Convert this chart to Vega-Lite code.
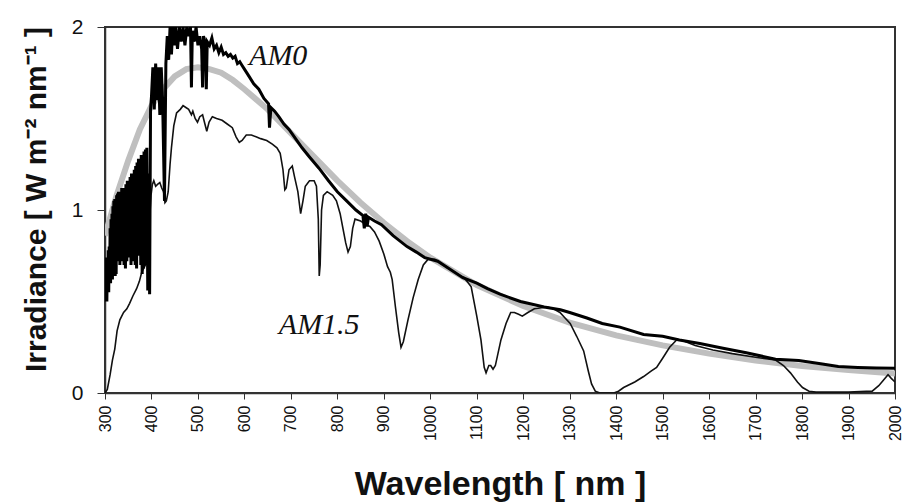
{
  "$schema": "https://vega.github.io/schema/vega-lite/v6.json",
  "width": 790,
  "height": 366,
  "autosize": {"type": "none"},
  "padding": {"left": 105, "top": 27, "right": 7, "bottom": 109},
  "background": "white",
  "config": {
    "view": {"stroke": "#333333", "strokeWidth": 2},
    "axis": {"grid": false, "domainColor": "#333333", "domainWidth": 1.5, "tickColor": "#333333", "labelColor": "#111111", "titleColor": "#111111", "labelFont": "Liberation Sans", "titleFont": "Liberation Sans"}
  },
  "datasets": {
    "bb": [
      {"wl": 300, "val": 0.86}, {"wl": 325, "val": 1.08}, {"wl": 350, "val": 1.27}, {"wl": 375, "val": 1.44}, {"wl": 400, "val": 1.57},
      {"wl": 425, "val": 1.66}, {"wl": 450, "val": 1.73}, {"wl": 475, "val": 1.77}, {"wl": 500, "val": 1.78}, {"wl": 525, "val": 1.77},
      {"wl": 550, "val": 1.75}, {"wl": 575, "val": 1.71}, {"wl": 600, "val": 1.66}, {"wl": 650, "val": 1.55}, {"wl": 700, "val": 1.42},
      {"wl": 750, "val": 1.29}, {"wl": 800, "val": 1.16}, {"wl": 850, "val": 1.04}, {"wl": 900, "val": 0.93}, {"wl": 950, "val": 0.83},
      {"wl": 1000, "val": 0.74}, {"wl": 1100, "val": 0.59}, {"wl": 1200, "val": 0.475}, {"wl": 1300, "val": 0.385}, {"wl": 1400, "val": 0.315},
      {"wl": 1500, "val": 0.26}, {"wl": 1600, "val": 0.215}, {"wl": 1700, "val": 0.178}, {"wl": 1800, "val": 0.148}, {"wl": 1900, "val": 0.125},
      {"wl": 2000, "val": 0.106}
    ],
    "am0": [
      {"wl": 300, "val": 0.52}, {"wl": 301, "val": 0.7}, {"wl": 302, "val": 0.5}, {"wl": 303, "val": 0.74}, {"wl": 304, "val": 0.5}, {"wl": 305, "val": 0.72}, {"wl": 306, "val": 0.55}, {"wl": 307, "val": 0.78}, {"wl": 308, "val": 0.55},
      {"wl": 309, "val": 0.8}, {"wl": 310, "val": 0.6}, {"wl": 311, "val": 0.9}, {"wl": 312, "val": 0.6}, {"wl": 313, "val": 0.95}, {"wl": 314, "val": 0.62}, {"wl": 315, "val": 0.98}, {"wl": 316, "val": 0.62}, {"wl": 317, "val": 1.02}, {"wl": 318, "val": 0.66},
      {"wl": 319, "val": 1.05}, {"wl": 320, "val": 0.7}, {"wl": 321, "val": 1.06}, {"wl": 322, "val": 0.64}, {"wl": 323, "val": 1.04}, {"wl": 324, "val": 0.65}, {"wl": 325, "val": 1.08}, {"wl": 326, "val": 0.72}, {"wl": 327, "val": 1.09}, {"wl": 328, "val": 0.78},
      {"wl": 329, "val": 1.1}, {"wl": 330, "val": 0.74}, {"wl": 331, "val": 1.1}, {"wl": 332, "val": 0.7}, {"wl": 333, "val": 1.09}, {"wl": 335, "val": 0.72}, {"wl": 336, "val": 1.12}, {"wl": 338, "val": 0.75}, {"wl": 339, "val": 1.1}, {"wl": 341, "val": 0.7}, {"wl": 342, "val": 1.12},
      {"wl": 344, "val": 0.68}, {"wl": 345, "val": 1.14}, {"wl": 347, "val": 0.72}, {"wl": 348, "val": 1.16}, {"wl": 350, "val": 0.8}, {"wl": 351, "val": 1.16}, {"wl": 353, "val": 0.74}, {"wl": 354, "val": 1.18}, {"wl": 356, "val": 0.7},
      {"wl": 357, "val": 1.2}, {"wl": 359, "val": 0.72}, {"wl": 360, "val": 1.2}, {"wl": 362, "val": 0.75}, {"wl": 363, "val": 1.22}, {"wl": 365, "val": 0.7}, {"wl": 366, "val": 1.24}, {"wl": 368, "val": 0.68}, {"wl": 369, "val": 1.26}, {"wl": 371, "val": 0.75},
      {"wl": 372, "val": 1.28}, {"wl": 374, "val": 0.8}, {"wl": 375, "val": 1.27}, {"wl": 377, "val": 0.7}, {"wl": 378, "val": 1.3}, {"wl": 380, "val": 0.65}, {"wl": 381, "val": 1.3}, {"wl": 383, "val": 0.68}, {"wl": 384, "val": 1.32}, {"wl": 386, "val": 0.7},
      {"wl": 387, "val": 1.33}, {"wl": 389, "val": 0.75}, {"wl": 390, "val": 1.34}, {"wl": 392, "val": 0.56}, {"wl": 394, "val": 1.2}, {"wl": 396, "val": 0.54}, {"wl": 398, "val": 1.55},
      {"wl": 400, "val": 1.62}, {"wl": 403, "val": 1.78}, {"wl": 406, "val": 1.55}, {"wl": 409, "val": 1.8}, {"wl": 412, "val": 1.6},
      {"wl": 415, "val": 1.78}, {"wl": 418, "val": 1.52}, {"wl": 421, "val": 1.78}, {"wl": 424, "val": 1.6}, {"wl": 428, "val": 1.05},
      {"wl": 431, "val": 1.8}, {"wl": 434, "val": 1.95}, {"wl": 437, "val": 1.82}, {"wl": 440, "val": 2.0}, {"wl": 443, "val": 1.85},
      {"wl": 446, "val": 2.0}, {"wl": 449, "val": 1.9}, {"wl": 452, "val": 2.0}, {"wl": 456, "val": 1.88}, {"wl": 460, "val": 2.0},
      {"wl": 464, "val": 1.92}, {"wl": 468, "val": 2.0}, {"wl": 472, "val": 1.9}, {"wl": 476, "val": 2.0}, {"wl": 480, "val": 1.95},
      {"wl": 484, "val": 2.0}, {"wl": 486, "val": 1.67}, {"wl": 488, "val": 1.98}, {"wl": 492, "val": 1.92}, {"wl": 496, "val": 2.0},
      {"wl": 500, "val": 1.9}, {"wl": 504, "val": 1.95}, {"wl": 508, "val": 1.88}, {"wl": 510, "val": 1.67}, {"wl": 512, "val": 1.95},
      {"wl": 516, "val": 1.9}, {"wl": 518, "val": 1.66}, {"wl": 520, "val": 1.92}, {"wl": 525, "val": 1.9}, {"wl": 530, "val": 1.94},
      {"wl": 535, "val": 1.88}, {"wl": 540, "val": 1.9}, {"wl": 545, "val": 1.86}, {"wl": 550, "val": 1.89}, {"wl": 555, "val": 1.85},
      {"wl": 560, "val": 1.86}, {"wl": 565, "val": 1.84}, {"wl": 570, "val": 1.85}, {"wl": 575, "val": 1.83}, {"wl": 580, "val": 1.84},
      {"wl": 585, "val": 1.8}, {"wl": 590, "val": 1.81}, {"wl": 595, "val": 1.79}, {"wl": 600, "val": 1.77}, {"wl": 610, "val": 1.73},
      {"wl": 620, "val": 1.69}, {"wl": 631, "val": 1.66}, {"wl": 642, "val": 1.61}, {"wl": 652, "val": 1.58}, {"wl": 654, "val": 1.45},
      {"wl": 657, "val": 1.56}, {"wl": 665, "val": 1.54}, {"wl": 674, "val": 1.51}, {"wl": 685, "val": 1.47}, {"wl": 696, "val": 1.44},
      {"wl": 710, "val": 1.39}, {"wl": 724, "val": 1.34}, {"wl": 740, "val": 1.29}, {"wl": 760, "val": 1.23}, {"wl": 781, "val": 1.16},
      {"wl": 800, "val": 1.1}, {"wl": 820, "val": 1.05}, {"wl": 840, "val": 1.0}, {"wl": 855, "val": 0.97}, {"wl": 858, "val": 0.9},
      {"wl": 861, "val": 0.98}, {"wl": 864, "val": 0.91}, {"wl": 867, "val": 0.96}, {"wl": 880, "val": 0.94}, {"wl": 895, "val": 0.92},
      {"wl": 920, "val": 0.86}, {"wl": 950, "val": 0.8}, {"wl": 970, "val": 0.77}, {"wl": 988, "val": 0.74}, {"wl": 1016, "val": 0.72},
      {"wl": 1040, "val": 0.68}, {"wl": 1070, "val": 0.63}, {"wl": 1100, "val": 0.6}, {"wl": 1123, "val": 0.57}, {"wl": 1150, "val": 0.54},
      {"wl": 1194, "val": 0.5}, {"wl": 1245, "val": 0.47}, {"wl": 1280, "val": 0.455}, {"wl": 1300, "val": 0.44}, {"wl": 1337, "val": 0.41},
      {"wl": 1370, "val": 0.38}, {"wl": 1408, "val": 0.36}, {"wl": 1459, "val": 0.32}, {"wl": 1500, "val": 0.31}, {"wl": 1536, "val": 0.29},
      {"wl": 1580, "val": 0.27}, {"wl": 1630, "val": 0.245}, {"wl": 1680, "val": 0.22}, {"wl": 1743, "val": 0.185}, {"wl": 1793, "val": 0.178},
      {"wl": 1840, "val": 0.16}, {"wl": 1878, "val": 0.145}, {"wl": 1920, "val": 0.14}, {"wl": 1960, "val": 0.137}, {"wl": 2000, "val": 0.135}
    ],
    "am15": [
      {"wl": 300, "val": 0.0}, {"wl": 305, "val": 0.02}, {"wl": 311, "val": 0.1}, {"wl": 316, "val": 0.18}, {"wl": 321, "val": 0.24},
      {"wl": 326, "val": 0.34}, {"wl": 332, "val": 0.4}, {"wl": 340, "val": 0.44}, {"wl": 347, "val": 0.46}, {"wl": 353, "val": 0.49},
      {"wl": 360, "val": 0.53}, {"wl": 368, "val": 0.57}, {"wl": 374, "val": 0.61}, {"wl": 379, "val": 0.66}, {"wl": 383, "val": 0.68},
      {"wl": 387, "val": 0.7}, {"wl": 390, "val": 0.72}, {"wl": 393, "val": 0.8}, {"wl": 396, "val": 0.95}, {"wl": 399, "val": 1.08},
      {"wl": 402, "val": 1.14}, {"wl": 405, "val": 1.16}, {"wl": 409, "val": 1.13}, {"wl": 413, "val": 1.14}, {"wl": 418, "val": 1.15},
      {"wl": 422, "val": 1.12}, {"wl": 426, "val": 1.1}, {"wl": 429, "val": 1.04}, {"wl": 432, "val": 1.05}, {"wl": 436, "val": 1.1},
      {"wl": 440, "val": 1.25}, {"wl": 443, "val": 1.34}, {"wl": 448, "val": 1.46}, {"wl": 454, "val": 1.53}, {"wl": 462, "val": 1.55},
      {"wl": 468, "val": 1.57}, {"wl": 474, "val": 1.56}, {"wl": 480, "val": 1.55}, {"wl": 486, "val": 1.52}, {"wl": 489, "val": 1.54},
      {"wl": 494, "val": 1.5}, {"wl": 499, "val": 1.48}, {"wl": 504, "val": 1.51}, {"wl": 510, "val": 1.52}, {"wl": 515, "val": 1.47},
      {"wl": 519, "val": 1.43}, {"wl": 524, "val": 1.48}, {"wl": 531, "val": 1.51}, {"wl": 540, "val": 1.5}, {"wl": 552, "val": 1.49},
      {"wl": 563, "val": 1.47}, {"wl": 574, "val": 1.45}, {"wl": 582, "val": 1.4}, {"wl": 589, "val": 1.37}, {"wl": 595, "val": 1.38},
      {"wl": 604, "val": 1.41}, {"wl": 615, "val": 1.41}, {"wl": 625, "val": 1.4}, {"wl": 635, "val": 1.39}, {"wl": 648, "val": 1.38},
      {"wl": 660, "val": 1.36}, {"wl": 670, "val": 1.34}, {"wl": 677, "val": 1.31}, {"wl": 683, "val": 1.22}, {"wl": 687, "val": 1.11},
      {"wl": 690, "val": 1.12}, {"wl": 696, "val": 1.22}, {"wl": 703, "val": 1.24}, {"wl": 708, "val": 1.18}, {"wl": 715, "val": 1.1},
      {"wl": 721, "val": 0.98}, {"wl": 726, "val": 1.05}, {"wl": 731, "val": 1.13}, {"wl": 740, "val": 1.16}, {"wl": 750, "val": 1.16},
      {"wl": 755, "val": 1.13}, {"wl": 759, "val": 0.95}, {"wl": 761, "val": 0.64}, {"wl": 763, "val": 0.7}, {"wl": 766, "val": 1.0},
      {"wl": 770, "val": 1.08}, {"wl": 778, "val": 1.1}, {"wl": 790, "val": 1.08}, {"wl": 798, "val": 1.05}, {"wl": 806, "val": 0.98},
      {"wl": 812, "val": 0.9}, {"wl": 818, "val": 0.82}, {"wl": 823, "val": 0.77}, {"wl": 828, "val": 0.8}, {"wl": 833, "val": 0.9},
      {"wl": 838, "val": 0.95}, {"wl": 850, "val": 0.94}, {"wl": 862, "val": 0.92}, {"wl": 870, "val": 0.91}, {"wl": 880, "val": 0.88},
      {"wl": 890, "val": 0.83}, {"wl": 900, "val": 0.76}, {"wl": 908, "val": 0.69}, {"wl": 914, "val": 0.66}, {"wl": 918, "val": 0.62},
      {"wl": 925, "val": 0.47}, {"wl": 932, "val": 0.33}, {"wl": 937, "val": 0.25}, {"wl": 942, "val": 0.28}, {"wl": 952, "val": 0.4},
      {"wl": 963, "val": 0.52}, {"wl": 974, "val": 0.62}, {"wl": 985, "val": 0.7}, {"wl": 995, "val": 0.73}, {"wl": 1010, "val": 0.73},
      {"wl": 1040, "val": 0.68}, {"wl": 1065, "val": 0.64}, {"wl": 1073, "val": 0.63}, {"wl": 1088, "val": 0.58}, {"wl": 1100, "val": 0.42},
      {"wl": 1109, "val": 0.29}, {"wl": 1116, "val": 0.14}, {"wl": 1120, "val": 0.11}, {"wl": 1126, "val": 0.15}, {"wl": 1130, "val": 0.15},
      {"wl": 1135, "val": 0.13}, {"wl": 1140, "val": 0.15}, {"wl": 1152, "val": 0.29}, {"wl": 1163, "val": 0.38}, {"wl": 1173, "val": 0.44},
      {"wl": 1181, "val": 0.44}, {"wl": 1190, "val": 0.43}, {"wl": 1198, "val": 0.42}, {"wl": 1210, "val": 0.44}, {"wl": 1224, "val": 0.46},
      {"wl": 1252, "val": 0.47}, {"wl": 1265, "val": 0.46}, {"wl": 1279, "val": 0.44}, {"wl": 1290, "val": 0.41}, {"wl": 1301, "val": 0.38},
      {"wl": 1315, "val": 0.31}, {"wl": 1330, "val": 0.23}, {"wl": 1340, "val": 0.12}, {"wl": 1347, "val": 0.05}, {"wl": 1355, "val": 0.01},
      {"wl": 1365, "val": 0.0}, {"wl": 1395, "val": 0.0}, {"wl": 1405, "val": 0.01}, {"wl": 1416, "val": 0.03}, {"wl": 1440, "val": 0.06},
      {"wl": 1459, "val": 0.09}, {"wl": 1475, "val": 0.12}, {"wl": 1487, "val": 0.14}, {"wl": 1500, "val": 0.19}, {"wl": 1515, "val": 0.25},
      {"wl": 1530, "val": 0.29}, {"wl": 1540, "val": 0.29}, {"wl": 1570, "val": 0.26}, {"wl": 1608, "val": 0.235}, {"wl": 1650, "val": 0.215},
      {"wl": 1700, "val": 0.195}, {"wl": 1743, "val": 0.18}, {"wl": 1760, "val": 0.15}, {"wl": 1775, "val": 0.11}, {"wl": 1790, "val": 0.06},
      {"wl": 1801, "val": 0.03}, {"wl": 1815, "val": 0.01}, {"wl": 1830, "val": 0.005}, {"wl": 1900, "val": 0.005}, {"wl": 1951, "val": 0.01},
      {"wl": 1965, "val": 0.04}, {"wl": 1975, "val": 0.07}, {"wl": 1985, "val": 0.1}, {"wl": 1992, "val": 0.08}, {"wl": 2000, "val": 0.06}
    ],
    "labels": [
      {"wl": 610, "val": 1.79, "text": "AM0"},
      {"wl": 674, "val": 0.32, "text": "AM1.5"}
    ]
  },
  "layer": [
    {
      "data": {"name": "bb"},
      "mark": {"type": "line", "color": "#bfbfbf", "strokeWidth": 6, "clip": true},
      "encoding": {
        "x": {"field": "wl", "type": "quantitative",
          "scale": {"domain": [300, 2000], "nice": false, "zero": false},
          "axis": {"values": [300, 400, 500, 600, 700, 800, 900, 1000, 1100, 1200, 1300, 1400, 1500, 1600, 1700, 1800, 1900, 2000],
            "labelAngle": -90, "labelFontSize": 16, "labelPadding": 6, "tickSize": 6, "format": "d",
            "title": "Wavelength [ nm ]", "titleFontSize": 34, "titleFontWeight": "bold", "titlePadding": 27}},
        "y": {"field": "val", "type": "quantitative",
          "scale": {"domain": [0, 2], "nice": false},
          "axis": {"tickCount": 2, "labelFontSize": 21, "labelPadding": 14, "tickSize": 8, "format": "d", "labelOverlap": false,
            "title": "Irradiance [ W m⁻² nm⁻¹ ]", "titleFontSize": 30, "titleFontWeight": "bold", "titlePadding": 20, "titleY": 172}}
      }
    },
    {
      "data": {"name": "am15"},
      "mark": {"type": "line", "color": "#111111", "strokeWidth": 1.6, "clip": true},
      "encoding": {
        "x": {"field": "wl", "type": "quantitative"},
        "y": {"field": "val", "type": "quantitative"}
      }
    },
    {
      "data": {"name": "am0"},
      "mark": {"type": "line", "color": "#000000", "strokeWidth": 3, "clip": true},
      "encoding": {
        "x": {"field": "wl", "type": "quantitative"},
        "y": {"field": "val", "type": "quantitative"}
      }
    },
    {
      "data": {"name": "labels"},
      "mark": {"type": "text", "font": "Liberation Serif", "fontStyle": "italic", "fontSize": 30, "align": "left", "baseline": "alphabetic", "color": "#111111"},
      "encoding": {
        "x": {"field": "wl", "type": "quantitative"},
        "y": {"field": "val", "type": "quantitative"},
        "text": {"field": "text"}
      }
    }
  ]
}
